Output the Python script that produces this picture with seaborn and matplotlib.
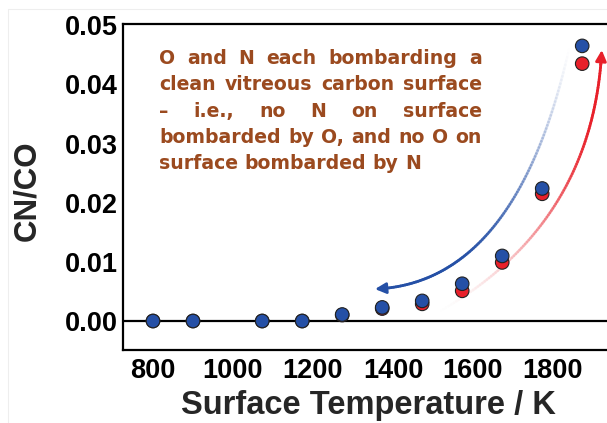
import numpy as np
import pandas as pd
import matplotlib
matplotlib.use("Agg")
import matplotlib.pyplot as plt
from matplotlib.collections import LineCollection
from matplotlib.lines import Line2D
from matplotlib.ticker import MultipleLocator, FormatStrFormatter
import seaborn as sns

# CN/CO ratio versus surface temperature for the two bombardment runs
temperature_k = [800, 900, 1073, 1173, 1273, 1373, 1473, 1573, 1673, 1773, 1873]
cn_co_red = [0.0, 0.0, 0.0, 0.0, 0.0010, 0.0021, 0.0029, 0.0051, 0.0099, 0.0215, 0.0435]
cn_co_blue = [0.0, 0.0, 0.0, 0.0, 0.0011, 0.0023, 0.0034, 0.0063, 0.0110, 0.0224, 0.0465]

x_ticks = [800, 1000, 1200, 1400, 1600, 1800]
y_ticks = [0.00, 0.01, 0.02, 0.03, 0.04, 0.05]

note_lines = [
    "O and N each bombarding a",
    "clean vitreous carbon surface",
    "\u2013 i.e., no N on surface",
    "bombarded by O, and no O on",
    "surface bombarded by N",
]

RED = "#e8202a"
BLUE = "#2550a6"
BROWN = "#9b4a1f"

sns.set_style("white")
plt.rcParams["font.family"] = ["Liberation Sans", "DejaVu Sans"]
plt.rcParams["font.weight"] = "bold"

W, H = 607, 423
fig = plt.figure(figsize=(W / 100, H / 100), dpi=100)
ax = fig.add_axes([123 / W, 73 / H, 484 / W, 326 / H])

df = pd.DataFrame({
    "T": temperature_k + temperature_k,
    "ratio": cn_co_red + cn_co_blue,
    "run": ["red"] * len(temperature_k) + ["blue"] * len(temperature_k),
})
sns.scatterplot(data=df, x="T", y="ratio", hue="run",
                palette={"red": RED, "blue": BLUE}, s=95,
                edgecolor="#222222", linewidth=0.8, legend=False,
                ax=ax, zorder=4)

ax.axhline(0, color="black", lw=1.6, zorder=2)

ax.set_xlim(725, 1935)
ax.set_ylim(-0.0049, 0.0502)
ax.set_xticks(x_ticks)
ax.set_yticks(y_ticks)
ax.xaxis.set_minor_locator(MultipleLocator(100))
ax.yaxis.set_minor_locator(MultipleLocator(0.005))
ax.yaxis.set_major_formatter(FormatStrFormatter("%.2f"))
ax.tick_params(which="both", direction="in", width=1.4, colors="black")
ax.tick_params(which="major", length=6, labelsize=19.5)
ax.tick_params(axis="y", which="major", pad=4)
ax.tick_params(axis="x", which="major", pad=6)
ax.tick_params(which="minor", length=4)
for lab in ax.get_xticklabels() + ax.get_yticklabels():
    lab.set_fontweight("bold")

for side in ["left", "bottom", "top"]:
    ax.spines[side].set_visible(True)
    ax.spines[side].set_linewidth(1.6)
    ax.spines[side].set_color("black")
ax.spines["right"].set_visible(False)

ax.set_xlabel("Surface Temperature / K", fontsize=23.5, fontweight="bold")
ax.set_ylabel("CN/CO", fontsize=22.5, fontweight="bold")
ax.xaxis.set_label_coords(0.507, -0.124)
ax.yaxis.set_label_coords(-0.166, 0.49)


def bezier(p0, c, p2, n=120):
    t = np.linspace(0, 1, n)[:, None]
    p0, c, p2 = map(np.asarray, (p0, c, p2))
    return (1 - t) ** 2 * p0 + 2 * (1 - t) * t * c + t ** 2 * p2


def gradient_curve(p0, c, p2, color, reach, power):
    pts = bezier(p0, c, p2)
    segs = np.stack([pts[:-1], pts[1:]], axis=1)[:-4]
    t = np.linspace(0, 1, len(segs) + 4)[:len(segs)]
    rgb = np.array(matplotlib.colors.to_rgb(color))
    alpha = np.clip(t / reach, 0, 1) ** power
    cols = np.column_stack([np.tile(rgb, (len(segs), 1)), alpha])
    ax.add_collection(LineCollection(segs, colors=cols, linewidths=2.0,
                                     capstyle="round", zorder=3))
    return pts


def arrow_head(pts, color):
    ax.annotate("", xy=pts[-1], xytext=pts[-6],
                arrowprops=dict(arrowstyle="-|>", color=color, lw=2.0,
                                mutation_scale=16, shrinkA=0, shrinkB=0),
                zorder=3)


# red arrow rises to the upper right, fading in from below
red_pts = gradient_curve((1500, 0.0010), (1899, 0.0158), (1922, 0.0458),
                         RED, reach=0.8, power=1.8)
arrow_head(red_pts, RED)

# blue arrow comes down from the top and points back to lower temperature
blue_pts = gradient_curve((1842, 0.0466), (1711, 0.0064), (1355, 0.0054),
                          BLUE, reach=0.7, power=1.3)
arrow_head(blue_pts, BLUE)

# justified note block
fig.canvas.draw()
renderer = fig.canvas.get_renderer()
left_px, right_px = 159, 482
base0, step = 64, 26.3
kw = dict(fontsize=13.6, family=["DejaVu Sans"], fontweight="bold",
          color=BROWN, va="baseline", ha="left")
probe_a = fig.text(0, 0, "x x", **kw)
probe_b = fig.text(0, 0, "xx", **kw)
space_w = probe_a.get_window_extent(renderer).width - probe_b.get_window_extent(renderer).width
probe_a.remove()
probe_b.remove()
for i, line in enumerate(note_lines):
    words = line.split()
    texts = [fig.text(0, 0, w, **kw) for w in words]
    widths = [t.get_window_extent(renderer).width for t in texts]
    if i < len(note_lines) - 1 and len(words) > 1:
        gap = (right_px - left_px - sum(widths)) / (len(words) - 1)
    else:
        gap = space_w
    x = left_px
    y = H - (base0 + i * step)
    for t, w in zip(texts, widths):
        t.set_position((x / W, y / H))
        x += w + gap

# faint outer frame
fig.add_artist(Line2D([8 / W, 8 / W], [0, 1 - 9 / H], color="#eeeeee", lw=0.8))
fig.add_artist(Line2D([8 / W, 1], [1 - 9 / H, 1 - 9 / H], color="#eeeeee", lw=0.8))

fig.savefig("out.png", dpi=100)
